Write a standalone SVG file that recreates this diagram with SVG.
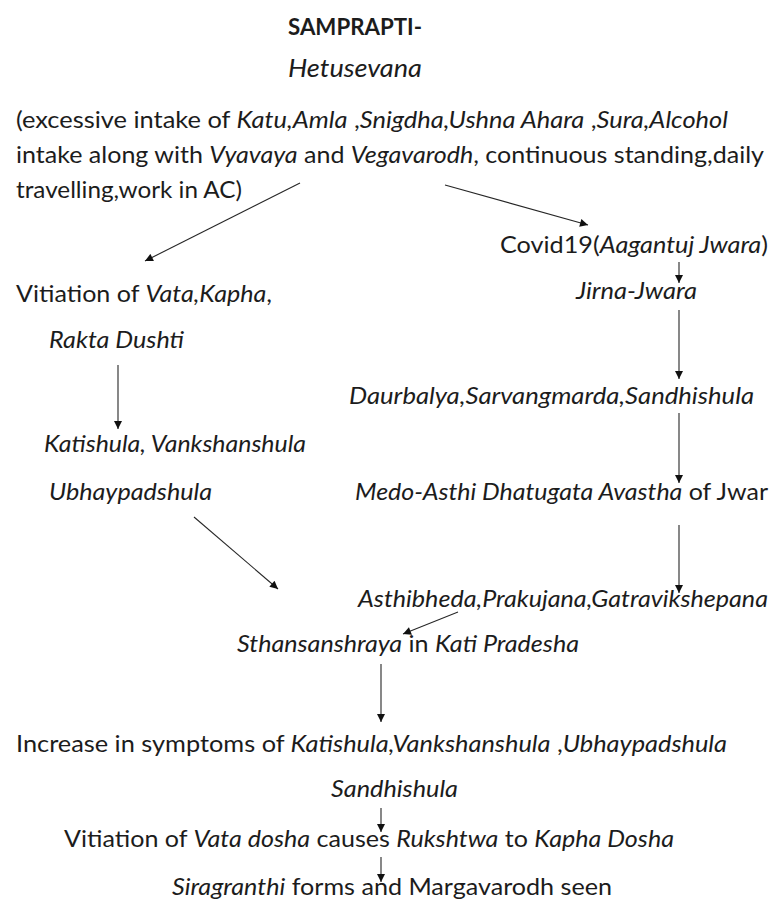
<svg xmlns="http://www.w3.org/2000/svg" width="774" height="903" viewBox="0 0 774 903">
<defs>
<style>
text{font-family:Lato,"Open Sans","Liberation Sans",sans-serif;font-size:23px;fill:#1c1c1c}
.i{font-style:italic}
.b{font-weight:bold}
.c{stroke:#262626;stroke-width:1.1;fill:none;marker-end:url(#ah)}
</style>
<marker id="ah" viewBox="0 0 10 10" refX="10" refY="5" markerWidth="9" markerHeight="8" markerUnits="userSpaceOnUse" orient="auto">
<path d="M0,0 L10,5 L0,10 z" fill="#111"/>
</marker>
</defs>
<rect width="774" height="903" fill="#fff"/>
<g id="title"><text x="288" y="35" class="b" style="font-size:22px" textLength="134" lengthAdjust="spacingAndGlyphs">SAMPRAPTI-</text></g>
<g id="hetusevana"><text x="288" y="77" class="i" style="font-size:25px" textLength="134" lengthAdjust="spacingAndGlyphs">Hetusevana</text></g>
<g id="causes">
<text x="16" y="128" textLength="712" lengthAdjust="spacingAndGlyphs">(excessive intake of <tspan class="i">Katu,Amla</tspan> ,<tspan class="i">Snigdha,Ushna  Ahara</tspan> ,<tspan class="i">Sura,Alcohol</tspan></text>
<text x="16" y="163" textLength="748" lengthAdjust="spacingAndGlyphs">intake along with <tspan class="i">Vyavaya</tspan> and <tspan class="i">Vegavarodh</tspan>, continuous standing,daily</text>
<text x="16" y="198" textLength="226" lengthAdjust="spacingAndGlyphs">travelling,work in AC)</text>
</g>
<g id="covid"><text x="500" y="253" textLength="268" lengthAdjust="spacingAndGlyphs">Covid19(<tspan class="i">Aagantuj Jwara</tspan>)</text></g>
<g id="jirna"><text x="576" y="299" class="i" textLength="121" lengthAdjust="spacingAndGlyphs">Jirna-Jwara</text></g>
<g id="vitiation1"><text x="16" y="302" textLength="256" lengthAdjust="spacingAndGlyphs">Vitiation of <tspan class="i">Vata,Kapha</tspan>,</text></g>
<g id="rakta"><text x="49" y="348" class="i" textLength="135" lengthAdjust="spacingAndGlyphs">Rakta Dushti</text></g>
<g id="daurbalya"><text x="349" y="404" class="i" textLength="405" lengthAdjust="spacingAndGlyphs">Daurbalya,Sarvangmarda,Sandhishula</text></g>
<g id="katishula"><text x="44" y="452" class="i" textLength="262" lengthAdjust="spacingAndGlyphs">Katishula, Vankshanshula</text></g>
<g id="ubhay"><text x="49" y="500" class="i" textLength="163" lengthAdjust="spacingAndGlyphs">Ubhaypadshula</text></g>
<g id="medo"><text x="355" y="500" textLength="413" lengthAdjust="spacingAndGlyphs"><tspan class="i">Medo-Asthi Dhatugata Avastha</tspan> of Jwar</text></g>
<g id="asthi"><text x="358" y="607" class="i" textLength="410" lengthAdjust="spacingAndGlyphs">Asthibheda,Prakujana,Gatravikshepana</text></g>
<g id="sthan"><text x="237" y="652" textLength="342" lengthAdjust="spacingAndGlyphs"><tspan class="i">Sthansanshraya</tspan> in <tspan class="i">Kati Pradesha</tspan></text></g>
<g id="increase"><text x="16" y="752" textLength="711" lengthAdjust="spacingAndGlyphs">Increase in symptoms of <tspan class="i">Katishula,Vankshanshula</tspan> ,<tspan class="i">Ubhaypadshula</tspan></text></g>
<g id="sandhi"><text x="331" y="797" class="i" textLength="127" lengthAdjust="spacingAndGlyphs">Sandhishula</text></g>
<g id="vitiation2"><text x="64" y="847" textLength="610" lengthAdjust="spacingAndGlyphs">Vitiation of <tspan class="i">Vata dosha</tspan> causes <tspan class="i">Rukshtwa</tspan> to <tspan class="i">Kapha Dosha</tspan></text></g>
<g id="sira"><text x="172" y="895" textLength="440" lengthAdjust="spacingAndGlyphs"><tspan class="i">Siragranthi</tspan> forms and Margavarodh seen</text></g>
<g id="connectors">
<line class="c" x1="300" y1="183" x2="145" y2="261"/>
<line class="c" x1="445" y1="185" x2="588" y2="225"/>
<line class="c" x1="679" y1="262" x2="679" y2="283"/>
<line class="c" x1="679" y1="310" x2="679" y2="379"/>
<line class="c" x1="118" y1="365" x2="118" y2="429"/>
<line class="c" x1="679" y1="413" x2="679" y2="483"/>
<line class="c" x1="194" y1="517" x2="278" y2="589"/>
<line class="c" x1="679" y1="525" x2="679" y2="593"/>
<line class="c" x1="458" y1="612" x2="403" y2="634"/>
<line class="c" x1="381" y1="664" x2="381" y2="722"/>
<line class="c" x1="381" y1="808" x2="381" y2="832"/>
<line class="c" x1="381" y1="857" x2="381" y2="882"/>
</g>
</svg>
